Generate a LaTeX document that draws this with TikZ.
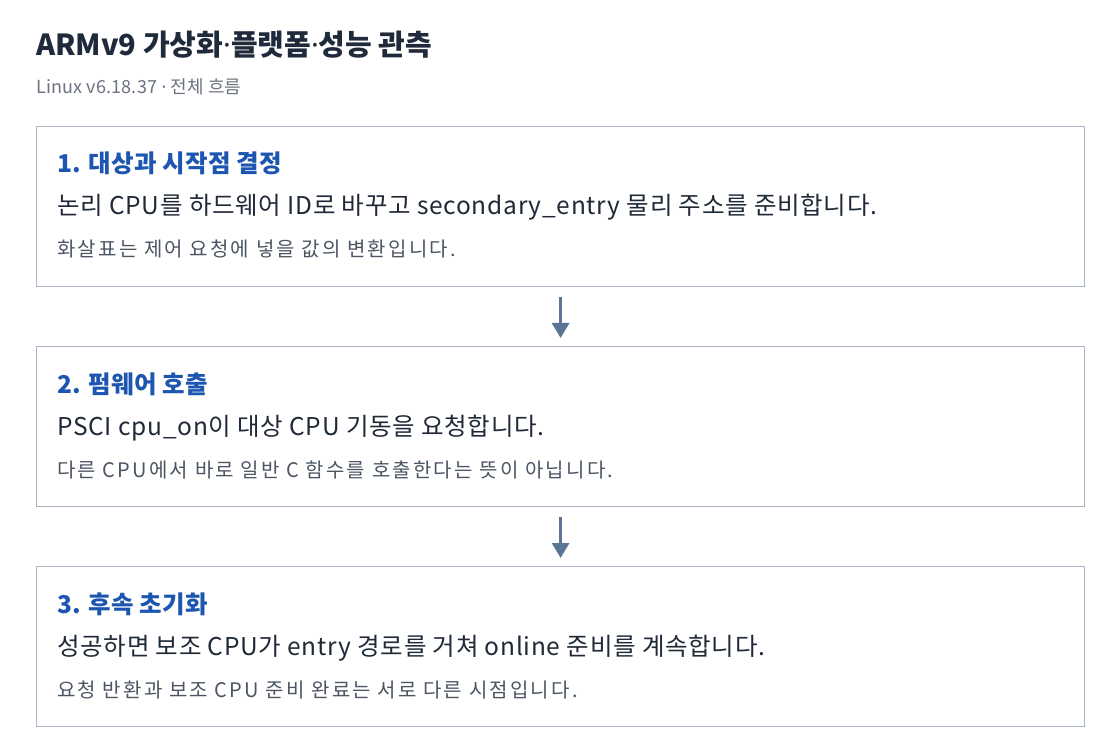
\documentclass[tikz,border=0pt]{standalone}
\usepackage{fontspec}
\setmainfont{Noto Sans CJK KR}
\newfontfamily\latinf{Noto Sans}
\usetikzlibrary{arrows.meta}
\definecolor{titlec}{HTML}{1F2A3A}
\definecolor{subc}{HTML}{6B7280}
\definecolor{headc}{HTML}{1D56B0}
\definecolor{bodyc}{HTML}{1F2937}
\definecolor{notec}{HTML}{4B5563}
\definecolor{borderc}{HTML}{A9B5C2}
\definecolor{arrowc}{HTML}{5B7594}
\newcommand{\mdot}{{\latinf ·}}
\tikzset{
  card/.style={draw=borderc, line width=1.2pt, fill=white, minimum width=1048pt, minimum height=160pt, inner sep=0pt, anchor=north west},
  headtxt/.style={anchor=base west, inner sep=0pt, text=headc, font=\fontsize{24.5}{28}\selectfont\bfseries\addfontfeatures{LetterSpace=1}},
  bodytxt/.style={anchor=base west, inner sep=0pt, text=bodyc, font=\fontsize{24.5}{28}\selectfont\addfontfeatures{LetterSpace=3}},
  notetxt/.style={anchor=base west, inner sep=0pt, text=notec, font=\fontsize{20}{24}\selectfont\addfontfeatures{LetterSpace=11}},
  flow/.style={draw=arrowc, line width=3pt, -{Triangle[width=17pt,length=15pt]}}
}
\begin{document}
\begin{tikzpicture}[x=1pt,y=-1pt]
\useasboundingbox[fill=white] (0,0) rectangle (1120,754);
\node[anchor=base west, inner sep=0pt, text=titlec, font=\fontsize{29}{34}\selectfont\bfseries] (title) at (36,56) {ARMv9 가상화\mdot 플랫폼\mdot 성능 관측};
\node[anchor=base west, inner sep=0pt, text=subc, font=\fontsize{18}{22}\selectfont\addfontfeatures{LetterSpace=1}] (sub) at (36,94) {Linux v6.18.37 \mdot{} 전체 흐름};

\node[card] (c1) at (36,126) {};
\node[headtxt] (h1) at (57,173) {1. 대상과 시작점 결정};
\node[bodytxt] (b1) at (57,215) {논리 CPU를 하드웨어 ID로 바꾸고 secondary\_entry 물리 주소를 준비합니다.};
\node[notetxt] (n1) at (57,257) {화살표는 제어 요청에 넣을 값의 변환입니다.};

\node[card] (c2) at (36,346) {};
\node[headtxt] (h2) at (57,393) {2. 펌웨어 호출};
\node[bodytxt] (b2) at (57,435) {PSCI cpu\_on이 대상 CPU 기동을 요청합니다.};
\node[notetxt] (n2) at (57,477) {다른 CPU에서 바로 일반 C 함수를 호출한다는 뜻이 아닙니다.};

\node[card] (c3) at (36,566) {};
\node[headtxt] (h3) at (57,613) {3. 후속 초기화};
\node[bodytxt] (b3) at (57,655) {성공하면 보조 CPU가 entry 경로를 거쳐 online 준비를 계속합니다.};
\node[notetxt] (n3) at (57,697) {요청 반환과 보조 CPU 준비 완료는 서로 다른 시점입니다.};

\draw[flow] ([yshift=-10pt]c1.south) -- ([yshift=8pt]c2.north);
\draw[flow] ([yshift=-10pt]c2.south) -- ([yshift=8pt]c3.north);
\end{tikzpicture}
\end{document}
